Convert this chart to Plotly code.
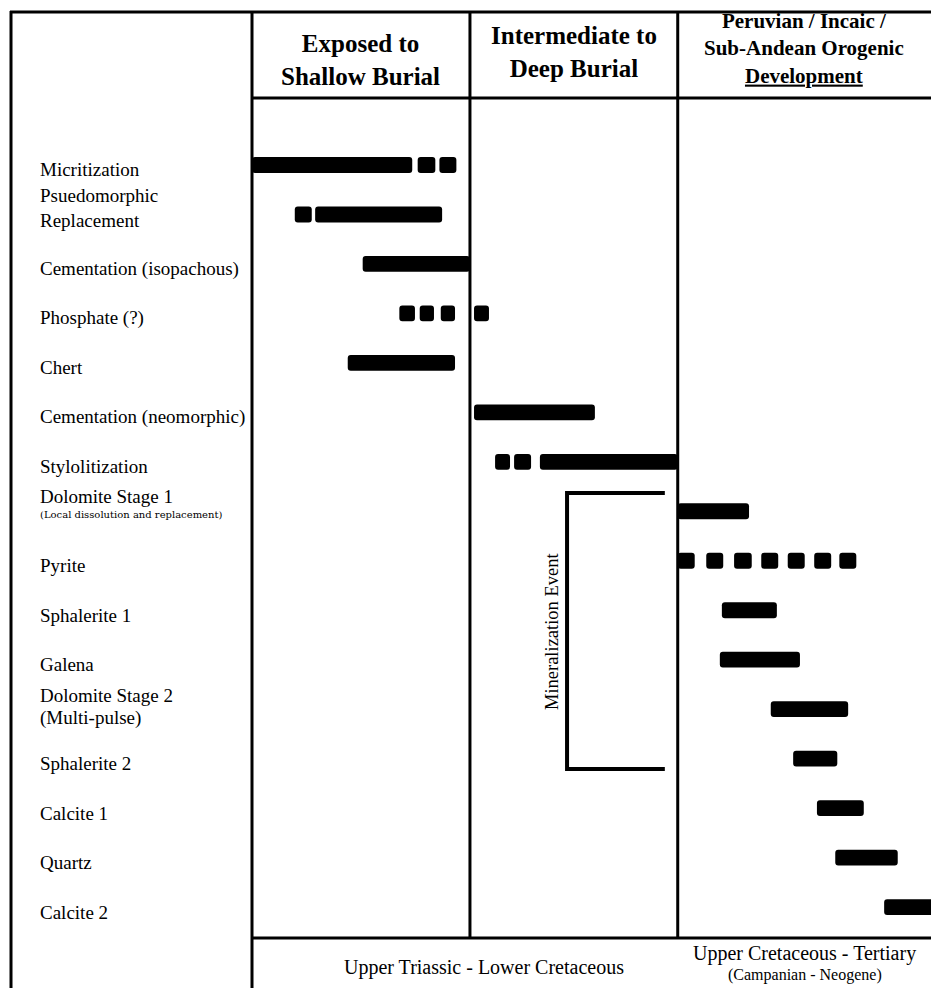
import plotly.graph_objects as go

# Paragenetic sequence, relative time runs 0-100 across the three burial stages.
processes = [
    "Micritization",
    "Psuedomorphic<br>Replacement",
    "Cementation (isopachous)",
    "Phosphate (?)",
    "Chert",
    "Cementation (neomorphic)",
    "Stylolitization",
    "Dolomite Stage 1",
    "Pyrite",
    "Sphalerite 1",
    "Galena",
    "Dolomite Stage 2",
    "Sphalerite 2",
    "Calcite 1",
    "Quartz",
    "Calcite 2",
]

# sub-notes written under some process names (row index -> text)
notes = {7: "(Local dissolution and replacement)", 11: "(Multi-pulse)"}

# start / end of each bar piece per process (dashed = several short pieces)
segments = [
    [(0, 23.6), (24.4, 27.0), (27.6, 30.1)],
    [(6.3, 8.8), (9.3, 28.0)],
    [(16.3, 32.1)],
    [(21.7, 24.0), (24.7, 26.8), (27.8, 29.9), (32.7, 34.9)],
    [(14.1, 29.9)],
    [(32.7, 50.5)],
    [(35.8, 38.0), (38.6, 41.1), (42.4, 62.7)],
    [(62.7, 73.2)],
    [(62.7, 65.2), (66.9, 69.4), (71.0, 73.6), (75.0, 77.5), (78.9, 81.4), (82.8, 85.3), (86.5, 89.0)],
    [(69.2, 77.3)],
    [(68.9, 80.7)],
    [(76.4, 87.8)],
    [(79.7, 86.2)],
    [(83.2, 90.1)],
    [(85.9, 95.1)],
    [(93.1, 102.0)],
]

stages = ["Exposed to<br>Shallow Burial", "Intermediate to<br>Deep Burial",
          "Peruvian / Incaic /<br>Sub-Andean Orogenic<br><u>Development</u>"]
stage_edges = [0, 32.1, 62.7, 100]

periods = ["Upper Triassic - Lower Cretaceous", "Upper Cretaceous - Tertiary"]
period_note = "(Campanian - Neogene)"

event_label = "Mineralization Event"
event_x = [46.4, 60.8]
event_rows = [6.63, 12.21]

W, H = 931, 988
SERIF = "Liberation Serif"


def px(x):
    return x / W


def py(y):
    return 1 - y / H


rows_y, bases, lengths = [], [], []
for i, segs in enumerate(segments):
    for a, b in segs:
        rows_y.append(i)
        bases.append(a)
        lengths.append(b - a)

fig = go.Figure()
fig.add_trace(go.Bar(y=rows_y, x=lengths, base=bases, orientation="h", width=0.32,
                     marker=dict(color="black", cornerradius=3, line_width=0),
                     hoverinfo="skip"))

# mineralization bracket
fig.add_trace(go.Scatter(x=[event_x[1], event_x[0], event_x[0], event_x[1]],
                         y=[event_rows[0], event_rows[0], event_rows[1], event_rows[1]],
                         mode="lines", line=dict(color="black", width=4), hoverinfo="skip"))

ann = []
for i, name in enumerate(processes):
    shift = -5
    if "<br>" in name:
        shift = 6
    if i in notes:
        shift = 15 if i == 7 else 14
    ann.append(dict(x=px(38), y=i, xref="paper", yref="y", text=name, showarrow=False,
                    xanchor="left", yanchor="middle", yshift=shift, align="left",
                    font=dict(family=SERIF, size=19, color="black")))
for i, txt in notes.items():
    if i == 7:
        f = dict(family="DejaVu Serif", size=10, color="black")
        sh = -3
    else:
        f = dict(family=SERIF, size=19, color="black")
        sh = -9
    ann.append(dict(x=px(38), y=i, xref="paper", yref="y", text=txt, showarrow=False,
                    xanchor="left", yanchor="middle", yshift=sh, font=f))

head_y = [60, 52, 48]
head_size = [25, 25, 21]
for k, s in enumerate(stages):
    ann.append(dict(x=(stage_edges[k] + stage_edges[k + 1]) / 2, y=py(head_y[k]), xref="x", yref="paper",
                    text=s, showarrow=False, xanchor="center", yanchor="middle",
                    font=dict(family=SERIF, size=head_size[k], color="black", weight="bold")))

bottom = [(periods[0], 484, 967, 20), (periods[1], 804, 953, 20), (period_note, 805, 975, 16)]
for txt, x, y, s in bottom:
    ann.append(dict(x=px(x), y=py(y), xref="paper", yref="paper", text=txt, showarrow=False,
                    xanchor="center", yanchor="middle",
                    font=dict(family=SERIF, size=s, color="black")))

ann.append(dict(x=event_x[0], y=sum(event_rows) / 2, xref="x", yref="y", text=event_label,
                showarrow=False, textangle=-90, xshift=-15, xanchor="center", yanchor="middle",
                font=dict(family=SERIF, size=18.5, color="black")))

line = dict(color="black", width=3)
shapes = [
    dict(type="line", xref="paper", yref="paper", x0=px(10), x1=px(940), y0=py(12), y1=py(12), line=line),
    dict(type="line", xref="paper", yref="paper", x0=px(11), x1=px(11), y0=py(11), y1=py(995), line=line),
    dict(type="line", xref="paper", yref="paper", x0=px(252), x1=px(940), y0=py(98), y1=py(98), line=line),
    dict(type="line", xref="paper", yref="paper", x0=px(252), x1=px(940), y0=py(938), y1=py(938), line=line),
    dict(type="line", xref="x", yref="paper", x0=stage_edges[0], x1=stage_edges[0], y0=py(12), y1=py(995), line=line),
]
for e in stage_edges[1:3]:
    shapes.append(dict(type="line", xref="x", yref="paper", x0=e, x1=e, y0=py(12), y1=py(938), line=line))

fig.update_layout(
    width=W, height=H, margin=dict(l=0, r=0, t=0, b=0),
    paper_bgcolor="white", plot_bgcolor="white", showlegend=False,
    xaxis=dict(range=[-37.113, 100], visible=False, fixedrange=True),
    yaxis=dict(range=[16.636, -3.335], visible=False, fixedrange=True),
    annotations=ann, shapes=shapes,
)
fig.write_html("out.html", config={"displayModeBar": False},
               post_script="document.body.style.margin='0';document.body.style.overflow='hidden';")
